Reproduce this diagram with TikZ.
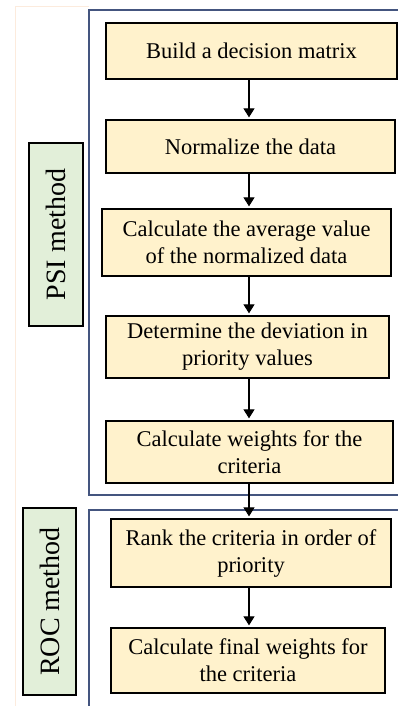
\documentclass[tikz,border=0pt]{standalone}
\usepackage{fontspec}
\setmainfont{Liberation Serif}
\usetikzlibrary{arrows.meta}
\definecolor{stepfill}{HTML}{FFF2CC}
\definecolor{labelfill}{HTML}{E2EFD9}
\definecolor{framecol}{HTML}{44557F}
\definecolor{cellcol}{HTML}{FCEBDD}

\begin{document}
\begin{tikzpicture}[x=1pt, y=-1pt,
  stepbox/.style={draw=black, line width=1.3pt, fill=stepfill, align=center,
    inner sep=0pt, font=\fontsize{22.5}{27}\selectfont},
  methodbox/.style={draw=black, line width=1.3pt, fill=labelfill, inner sep=0pt,
    rotate=90, font=\fontsize{28}{32}\selectfont},
  flow/.style={line width=1.1pt, -{Triangle[width=11pt,length=9pt]}, shorten >=2pt}]
  \useasboundingbox (0,0) rectangle (398,706);
  \clip (0,0) rectangle (398,706);
  \fill[white] (0,0) rectangle (398,706);
  \draw[cellcol, line width=0.8pt] (89,6) -- (15,6) -- (15,706);
  \draw[framecol, line width=1.6pt] (89,10) rectangle (420,495);
  \draw[framecol, line width=1.6pt] (89,720) -- (89,510) -- (420,510);

  \node[methodbox, minimum width=183pt, minimum height=54pt] (psi) at (56,234.5) {PSI method};
  \node[methodbox, minimum width=187pt, minimum height=53pt] (roc) at (49.5,601.5) {ROC method};

  \node[stepbox, minimum width=291pt, minimum height=56pt] (b1) at (251.5,51) {Build a decision matrix};
  \node[stepbox, minimum width=289pt, minimum height=53pt] (b2) at (250.5,146.5) {Normalize the data};
  \node[stepbox, minimum width=289pt, minimum height=67pt] (b3) at (246.5,242.5) {Calculate the average value\\of the normalized data};
  \node[stepbox, minimum width=283pt, minimum height=62pt] (b4) at (247.5,347) {Determine the deviation in\\priority values};
  \node[stepbox, minimum width=287pt, minimum height=62pt] (b5) at (249.5,452) {Calculate weights for the\\criteria};
  \node[stepbox, minimum width=280pt, minimum height=68pt] (b6) at (251,553) {Rank the criteria in order of\\priority};
  \node[stepbox, minimum width=274pt, minimum height=65pt] (b7) at (248,660.5) {Calculate final weights for\\the criteria};

  \coordinate (ax) at (249,0);
  \foreach \a/\b in {b1/b2,b2/b3,b3/b4,b4/b5,b5/b6,b6/b7}
    \draw[flow] (\a.south -| ax) -- (\b.north -| ax);
\end{tikzpicture}
\end{document}
